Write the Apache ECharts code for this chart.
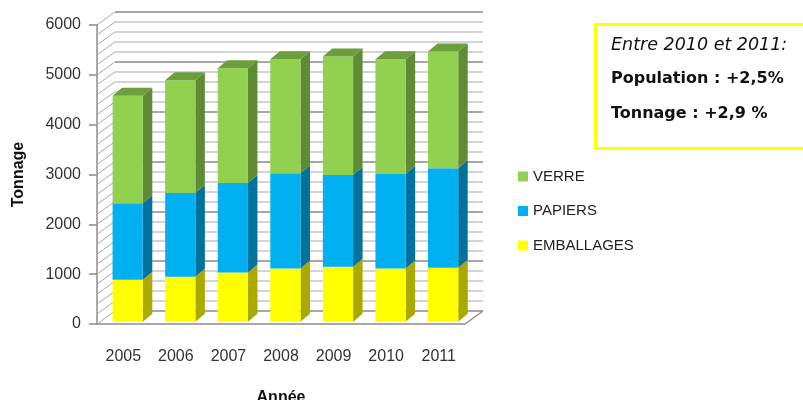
<!DOCTYPE html>
<html>
<head>
<meta charset="utf-8">
<script src="https://cdn.jsdelivr.net/npm/echarts@6/dist/echarts.min.js"></script>
<style>
  html, body { margin: 0; padding: 0; background: #fff; }
  #chart { width: 803px; height: 400px; }
</style>
</head>
<body>
<div id="chart"></div>
<script>
// Tonnage collected per year, split by stream
const years = ['2005', '2006', '2007', '2008', '2009', '2010', '2011'];
const emballages = [840, 900, 985, 1070, 1105, 1070, 1085];
const papiers = [1535, 1685, 1800, 1910, 1840, 1895, 1995];
const verre = [2160, 2260, 2300, 2285, 2375, 2300, 2340];
const yTicks = { min: 0, max: 6000, major: 1000, minorSplit: 5 };

// Pseudo-3D geometry (pixels)
const DEPTH_X = 18, DEPTH_Y = -13;   // wall depth
const FRONT_X = 4.4, FRONT_Y = -2.3; // bar front face inset
const SIDE_X = 9.5, SIDE_Y = -8;     // bar depth
const BAR_RATIO = 0.575;

const GRID_LEFT = 97, GRID_RIGHT = 338, GRID_TOP = 25, GRID_BOTTOM = 76;

// Stack the three streams into [category, base, top] rows
function stackRows(values, below) {
  return values.map((v, i) => {
    const base = below.reduce((s, arr) => s + arr[i], 0);
    return [i, base, base + v];
  });
}

function barRenderer(front, side, top, withTop) {
  return function (params, api) {
    const i = api.value(0), lo = api.value(1), hi = api.value(2);
    const cLo = api.coord([i, lo]);
    const cHi = api.coord([i, hi]);
    const band = api.size([1, 0])[0];
    const w = band * BAR_RATIO;
    const x0 = cLo[0] - w / 2 + FRONT_X, x1 = x0 + w;
    const yb = cLo[1] + FRONT_Y, yt = cHi[1] + FRONT_Y;
    const children = [
      { type: 'polygon', shape: { points: [[x1, yb], [x1 + SIDE_X, yb + SIDE_Y], [x1 + SIDE_X, yt + SIDE_Y], [x1, yt]] },
        style: { fill: side } },
      { type: 'rect', shape: { x: x0, y: yt, width: w, height: yb - yt }, style: { fill: front } }
    ];
    if (withTop) {
      children.push({ type: 'polygon',
        shape: { points: [[x0, yt], [x1, yt], [x1 + SIDE_X, yt + SIDE_Y], [x0 + SIDE_X, yt + SIDE_Y]] },
        style: { fill: top } });
    }
    return { type: 'group', children: children };
  };
}

// Left wall hatching and floor edge
function wallRenderer(params, api) {
  const cs = params.coordSys;
  const children = [];
  const step = yTicks.major / yTicks.minorSplit;
  for (let v = yTicks.min; v <= yTicks.max; v += step) {
    const p = api.coord([0, v]);
    children.push({ type: 'line',
      shape: { x1: cs.x, y1: p[1], x2: cs.x + DEPTH_X, y2: p[1] + DEPTH_Y },
      style: { stroke: '#a8a8a8', lineWidth: 1 } });
  }
  const xr = cs.x + cs.width, yb = cs.y + cs.height;
  children.push({ type: 'line',
    shape: { x1: xr, y1: yb, x2: xr + DEPTH_X, y2: yb + DEPTH_Y },
    style: { stroke: '#8c8c8c', lineWidth: 1.5 } });
  return { type: 'group', children: children };
}

const chart = echarts.init(document.getElementById('chart'), null, { renderer: 'canvas' });

const labelFont = 'Liberation Sans, Arial, sans-serif';

chart.setOption({
  animation: false,
  backgroundColor: '#ffffff',
  grid: [
    { left: GRID_LEFT, right: GRID_RIGHT, top: GRID_TOP, bottom: GRID_BOTTOM,
      containLabel: false, outerBoundsMode: 'none' },
    { left: GRID_LEFT + DEPTH_X, right: GRID_RIGHT + (-DEPTH_X), top: GRID_TOP + DEPTH_Y,
      bottom: GRID_BOTTOM - DEPTH_Y, containLabel: false, outerBoundsMode: 'none' }
  ],
  xAxis: [
    { type: 'category', gridIndex: 0, data: years, boundaryGap: true,
      name: 'Année', nameLocation: 'middle', nameGap: 66,
      nameTextStyle: { fontFamily: labelFont, fontWeight: 'bold', fontSize: 16, color: '#111' },
      axisLine: { show: true, lineStyle: { color: '#8c8c8c', width: 1.5 } },
      axisTick: { show: false },
      axisLabel: { margin: 25, fontFamily: labelFont, fontSize: 16, color: '#333' },
      splitLine: { show: false } },
    { type: 'category', gridIndex: 1, data: years, show: false }
  ],
  yAxis: [
    { type: 'value', gridIndex: 0, min: yTicks.min, max: yTicks.max, interval: yTicks.major,
      name: 'Tonnage', nameLocation: 'middle', nameGap: 70, nameRotate: 90,
      nameTextStyle: { fontFamily: labelFont, fontWeight: 'bold', fontSize: 16, color: '#111' },
      axisLine: { show: true, lineStyle: { color: '#8c8c8c', width: 1.5 } },
      axisTick: { show: true, length: 8, lineStyle: { color: '#8c8c8c', width: 1.5 } },
      axisLabel: { margin: 16, fontFamily: labelFont, fontSize: 16, color: '#333',
        formatter: (v) => String(v) },
      splitLine: { show: false } },
    { type: 'value', gridIndex: 1, min: yTicks.min, max: yTicks.max, interval: yTicks.major,
      axisLine: { show: false }, axisTick: { show: false }, axisLabel: { show: false },
      minorTick: { show: false, splitNumber: yTicks.minorSplit },
      splitLine: { show: true, lineStyle: { color: '#8a8a8a', width: 1.5 } },
      minorSplitLine: { show: true, lineStyle: { color: '#c6c6c6', width: 1.5 } } }
  ],
  legend: {
    orient: 'vertical', left: 513, top: 164, itemGap: 19.5,
    itemWidth: 10, itemHeight: 10, icon: 'rect',
    textStyle: { fontFamily: labelFont, fontSize: 15, color: '#222', lineHeight: 15, padding: [0, 0, 0, 0] },
    data: ['VERRE', 'PAPIERS', 'EMBALLAGES']
  },
  series: [
    { type: 'custom', name: 'wall', xAxisIndex: 0, yAxisIndex: 0, z: 1, silent: true,
      renderItem: wallRenderer, data: [[0, 0]] },
    { type: 'custom', name: 'EMBALLAGES', xAxisIndex: 0, yAxisIndex: 0, z: 3,
      itemStyle: { color: '#ffff00' },
      encode: { x: 0, y: [1, 2] },
      renderItem: barRenderer('#ffff00', '#a9a900', '#d4d400', false),
      data: stackRows(emballages, []) },
    { type: 'custom', name: 'PAPIERS', xAxisIndex: 0, yAxisIndex: 0, z: 4,
      itemStyle: { color: '#00b0f0' },
      encode: { x: 0, y: [1, 2] },
      renderItem: barRenderer('#00b0f0', '#00729c', '#0090c4', false),
      data: stackRows(papiers, [emballages]) },
    { type: 'custom', name: 'VERRE', xAxisIndex: 0, yAxisIndex: 0, z: 5,
      itemStyle: { color: '#92d050' },
      encode: { x: 0, y: [1, 2] },
      renderItem: barRenderer('#92d050', '#5f8b34', '#6c9e3c', true),
      data: stackRows(verre, [emballages, papiers]) }
  ],
  graphic: [
    { type: 'rect', left: 594, top: 23, z: 10,
      shape: { width: 210, height: 124 },
      style: { fill: '#ffffff', stroke: '#ffff00', lineWidth: 3 } },
    { type: 'text', left: 611, top: 36, z: 11,
      style: { text: 'Entre 2010 et 2011:', fontFamily: 'DejaVu Sans', fontStyle: 'italic',
        fontSize: 17.5, fill: '#111' } },
    { type: 'text', left: 611, top: 71, z: 11,
      style: { text: 'Population : +2,5%', fontFamily: 'DejaVu Sans', fontWeight: 'bold',
        fontSize: 16, fill: '#111' } },
    { type: 'text', left: 611, top: 106, z: 11,
      style: { text: 'Tonnage : +2,9 %', fontFamily: 'DejaVu Sans', fontWeight: 'bold',
        fontSize: 16, fill: '#111' } }
  ]
});
</script>
</body>
</html>
